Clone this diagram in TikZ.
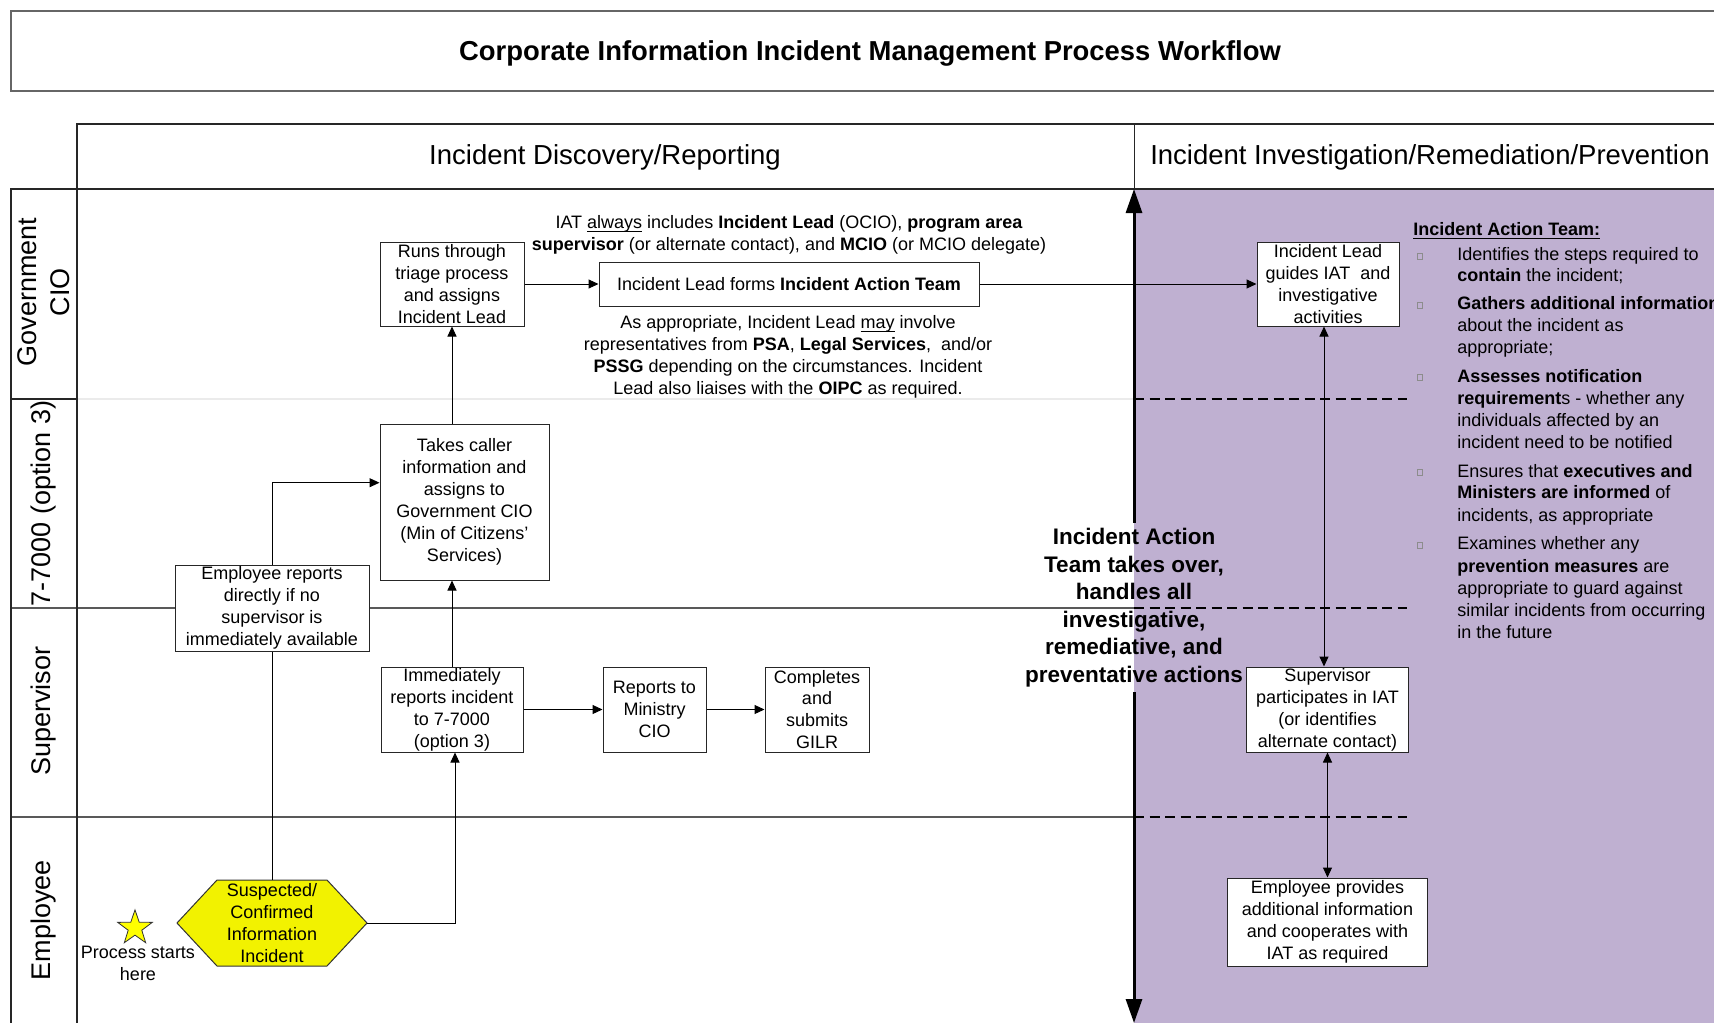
\documentclass[tikz,border=0pt]{standalone}
\usepackage{fontspec}
\setmainfont{Liberation Sans}
\usetikzlibrary{arrows.meta,shapes.geometric,calc}
\definecolor{lav}{RGB}{191,176,209}
\definecolor{hexyellow}{RGB}{242,242,0}
\definecolor{staryellow}{RGB}{255,255,0}
\newcommand{\bxfont}{\fontsize{9}{10.95}\selectfont}
% underline that sits just below the baseline, whatever the descenders
\newcommand{\ulword}[1]{\underline{\smash{#1}}}

\begin{document}
\begin{tikzpicture}[x=0.5pt,y=-0.5pt,
  stepbox/.style={draw=black!85, line width=0.5pt, fill=white, align=center, font=\bxfont, inner sep=0pt},
  conn/.style={draw=black, line width=0.5pt, -{Triangle[length=5pt,width=4.5pt]}},
  twoway/.style={draw=black, line width=0.5pt, {Triangle[length=5pt,width=4.5pt]}-{Triangle[length=5pt,width=4.5pt]}},
  plainline/.style={draw=black, line width=0.5pt},
  lanelabel/.style={rotate=90, font=\fontsize{13.5}{16.5}\selectfont, align=center},
  phasehead/.style={font=\fontsize{13.75}{16}\selectfont},
  annot/.style={font=\bxfont, align=center, inner sep=0pt},
  listline/.style={font=\bxfont, anchor=west, inner sep=0pt, text height=6.6pt, text depth=1.9pt},
  bulletbox/.style={draw=black!45, line width=0.3pt, minimum width=2.5pt, minimum height=3pt, inner sep=0pt},
  lanesep/.style={draw=black!65, line width=1pt},
  iatsep/.style={draw=black, line width=1pt, dash pattern=on 5pt off 2.75pt},
  bigarrow/.style={draw=black, line width=1.5pt, -{Triangle[length=12pt,width=8pt]}},
]
\useasboundingbox (0,0) rectangle (1714,1023);
\clip (0,0) rectangle (1714,1023);

% investigation phase background
\fill[lav] (1134,189) rectangle (1714,1023);

% title bar
\draw[draw=black!60, line width=1.2pt] (11,11) rectangle (1740,91);
\node[font=\fontsize{13.7}{16}\selectfont\bfseries] (title) at (870,53)
  {Corporate Information Incident Management Process Workflow};

% phase header
\draw[black!85, line width=0.8pt] (77,189) -- (77,124) -- (1714,124);
\draw[black!85, line width=0.5pt] (1134,124) -- (1134,189);
\node[phasehead] (ph1) at (605,157) {Incident Discovery/Reporting};
\node[phasehead] (ph2) at (1430,157) {Incident Investigation/Remediation/Prevention};

% swimlane separators
\draw[black!8, line width=0.8pt] (77,399) -- (1134,399);
\draw[lanesep] (11,608) -- (1134,608);
\draw[lanesep] (11,817) -- (1134,817);
\draw[black!85, line width=0.8pt] (11,399) -- (77,399);
\draw[black!85, line width=0.8pt] (11,1023) -- (11,189) -- (1714,189);
\draw[black!85, line width=0.8pt] (77,189) -- (77,1023);
\foreach \y in {399,608,817} \draw[iatsep] (1134,\y) -- (1407,\y);

% lane labels
\node[lanelabel] (lgov) at (44,292) {Government\\CIO};
\node[lanelabel] (lcall) at (44,503.5) {7-7000 (option 3)};
\node[lanelabel] (lsup) at (44,711) {Supervisor};
\node[lanelabel] (lemp) at (44,920) {Employee};

% process steps
\node[stepbox, minimum width=72pt, minimum height=42pt] (triage) at (452,284)
  {Runs through\\triage process\\and assigns\\Incident Lead};
\node[stepbox, minimum width=190pt, minimum height=22pt] (formsIAT) at (789,284)
  {Incident Lead forms \textbf{Incident Action Team}};
\node[stepbox, minimum width=71pt, minimum height=42pt] (guides) at (1328,284)
  {Incident Lead\\guides IAT~ and\\investigative\\activities};
\node[stepbox, minimum width=84.5pt, minimum height=78pt] (takes) at (464.5,502)
  {Takes caller\\information and\\assigns to\\Government CIO\\(Min of Citizens’\\Services)};
\node[stepbox, minimum width=97pt, minimum height=43pt] (empreports) at (272,608)
  {Employee reports\\directly if no\\supervisor is\\immediately available};
\node[stepbox, minimum width=71pt, minimum height=42.5pt] (immediately) at (452,709.5)
  {Immediately\\reports incident\\to 7-7000\\(option 3)};
\node[stepbox, minimum width=51.5pt, minimum height=42.5pt] (ministry) at (654.5,709.5)
  {Reports to\\Ministry\\CIO};
\node[stepbox, minimum width=52pt, minimum height=42.5pt] (gilr) at (817,709.5)
  {Completes\\and\\submits\\GILR};
\node[stepbox, minimum width=81pt, minimum height=42.5pt] (supIAT) at (1327.5,709.5)
  {Supervisor\\participates in IAT\\(or identifies\\alternate contact)};
\node[stepbox, minimum width=100pt, minimum height=44pt] (empprov) at (1327.5,922)
  {Employee provides\\additional information\\and cooperates with\\IAT as required};

% starting event
\filldraw[fill=hexyellow, draw=black!80, line width=0.5pt]
  (177,923) -- (217,880) -- (327,880) -- (367,923) -- (327,966) -- (217,966) -- cycle;
\node[annot, minimum width=95pt, minimum height=43pt] (incident) at (272,923)
  {Suspected/\\Confirmed\\Information\\Incident};
\node[star, star points=5, star point ratio=2.55, draw=black!80, fill=staryellow,
  line width=0.4pt, minimum size=18.2pt, inner sep=0pt] (startstar) at (135,928) {};
\node[annot] (start) at (138,963) {Process starts\\here};

% connectors
\draw[conn] (triage.east) -- (formsIAT.west);
\draw[conn] (formsIAT.east) -- (guides.west);
\draw[conn] (triage.south |- takes.north) -- (triage.south);
\draw[conn] (empreports.north) |- ([yshift=9.65pt]takes.west);
\draw[conn] (immediately.north) -- (immediately.north |- takes.south);
\draw[conn] (immediately.east) -- (ministry.west);
\draw[conn] (ministry.east) -- (gilr.west);
\draw[plainline] (incident.north) -- (empreports.south);
\draw[conn] (incident.east) -| ([xshift=1.5pt]immediately.south);
\draw[twoway] ([xshift=-2pt]guides.south) -- ([xshift=-2pt]guides.south |- supIAT.north);
\draw[twoway] (supIAT.south) -- (empprov.north);

% hand-over to the Incident Action Team
\coordinate (iattop) at (1134,189);
\coordinate (iatbottom) at (1134,1023);
\node[font=\fontsize{11.25}{13.75}\selectfont\bfseries, align=center, inner sep=2.5pt] (takeover) at (1134,607.5)
  {Incident Action\\Team takes over,\\handles all\\investigative,\\remediative, and\\preventative actions};
\draw[bigarrow] (takeover.north) -- (iattop);
\draw[bigarrow] (takeover.south) -- (iatbottom);

% notes on the team
\node[annot] (iatnote) at (789,235)
  {IAT \ulword{always} includes \textbf{Incident Lead} (OCIO), \textbf{program area}\\
   \textbf{supervisor} (or alternate contact), and \textbf{MCIO} (or MCIO delegate)};
\node[annot] (leadnote) at (788,357)
  {As appropriate, Incident Lead \ulword{may} involve\\
   representatives from \textbf{PSA}, \textbf{Legal Services},~ and/or\\
   \textbf{PSSG} depending on the circumstances. Incident\\
   Lead also liaises with the \textbf{OIPC} as required.};

% team responsibilities
\node[listline] (iathead) at (1413,231) {\ulword{\textbf{Incident Action Team:}}};
\foreach \y [count=\i] in {256,305,377.5,472.5,545}
  \node[bulletbox] (b\i) at (1420,\y) {};
\node[listline] (t1) at (1457,256) {Identifies the steps required to};
\node[listline] (t2) at (1457,277) {\textbf{contain} the incident;};
\node[listline] (t3) at (1457,305) {\textbf{Gathers additional information}};
\node[listline] (t4) at (1457,327) {about the incident as};
\node[listline] (t5) at (1457,348.5) {appropriate;};
\node[listline] (t6) at (1457,377.5) {\textbf{Assesses notification}};
\node[listline] (t7) at (1457,400) {\textbf{requirement}s - whether any};
\node[listline] (t8) at (1457,422) {individuals affected by an};
\node[listline] (t9) at (1457,443.5) {incident need to be notified};
\node[listline] (t10) at (1457,472.5) {Ensures that \textbf{executives and}};
\node[listline] (t11) at (1457,494) {\textbf{Ministers are informed} of};
\node[listline] (t12) at (1457,516.5) {incidents, as appropriate};
\node[listline] (t13) at (1457,545) {Examines whether any};
\node[listline] (t14) at (1457,567.5) {\textbf{prevention measures} are};
\node[listline] (t15) at (1457,589.5) {appropriate to guard against};
\node[listline] (t16) at (1457,611.5) {similar incidents from occurring};
\node[listline] (t17) at (1457,633.5) {in the future};
\end{tikzpicture}
\end{document}
